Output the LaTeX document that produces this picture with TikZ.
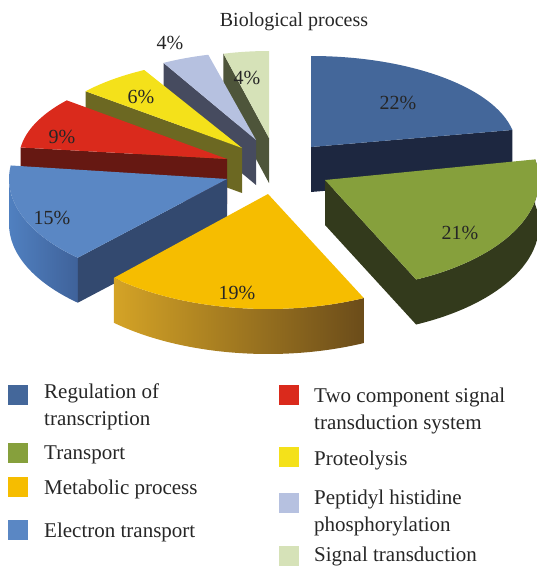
\documentclass[tikz,border=0pt]{standalone}
\usepackage{fontspec}
\setmainfont{Liberation Serif}
\usetikzlibrary{calc}
% slice colours (top face / side)
\definecolor{regtop}{HTML}{44679A}
\definecolor{regside}{HTML}{1D2740}
\definecolor{transtop}{HTML}{86A03C}
\definecolor{transside}{HTML}{333A1C}
\definecolor{metatop}{HTML}{F6BD00}
\definecolor{metawl}{HTML}{D4A326}
\definecolor{metawr}{HTML}{6B4C1A}
\definecolor{electop}{HTML}{5A87C4}
\definecolor{elecside}{HTML}{33496F}
\definecolor{elecwl}{HTML}{5080C0}
\definecolor{elecwr}{HTML}{3F629A}
\definecolor{twotop}{HTML}{DA2A1C}
\definecolor{twoside}{HTML}{661812}
\definecolor{prottop}{HTML}{F4E11A}
\definecolor{protside}{HTML}{6C6822}
\definecolor{peptop}{HTML}{B6C1E0}
\definecolor{pepside}{HTML}{464B5F}
\definecolor{sigtop}{HTML}{D6E2B8}
\definecolor{sigside}{HTML}{4E553A}
\begin{document}
\begin{tikzpicture}[x=1pt, y=1pt,
    every node/.style={font=\fontsize{20}{24}\selectfont, text=black!85},
    lgbox/.style={minimum size=20pt, inner sep=0pt},
    lgtext/.style={anchor=west, inner sep=0pt, align=left, font=\fontsize{21}{26.5}\selectfont}]
    \useasboundingbox (0,0) rectangle (537,-567);
    %! --- Pie ---
    % apex of each slice
    \coordinate (sig) at (269,-138);
    \coordinate (pep) at (256,-140);
    \coordinate (prot) at (242,-148);
    \coordinate (two) at (227,-159);
    \coordinate (elec) at (227,-179);
    \coordinate (reg) at (311,-147);
    \coordinate (trans) at (325,-180);
    \coordinate (meta) at (268,-194);

    % Signal transduction
    \fill[sigside] (sig) -- ++(104.4:183 and 87) -- ++(0,-45) -- ++(284.4:183 and 87) -- cycle;
    \fill[sigtop] (sig) -- ++(104.4:183 and 87) arc[start angle=104.4, end angle=90, x radius=183, y radius=87] -- cycle;
    % Peptidyl histidine phosphorylation
    \fill[pepside] (pep) -- ++(118.8:192 and 88) -- ++(0,-45) -- ++(298.8:192 and 88) -- cycle;
    \fill[peptop] (pep) -- ++(118.8:192 and 88) arc[start angle=118.8, end angle=104.4, x radius=192, y radius=88] -- cycle;
    % Proteolysis
    \fill[protside] (prot) -- ++(140.4:203 and 89) -- ++(0,-45) -- ++(320.4:203 and 89) -- cycle;
    \fill[prottop] (prot) -- ++(140.4:203 and 89) arc[start angle=140.4, end angle=118.8, x radius=203, y radius=89] -- cycle;
    % Two component signal transduction system
    \fill[twoside] (two) -- ++(172.8:208 and 92) -- ++(0,-45) -- ++(352.8:208 and 92) -- cycle;
    \fill[twotop] (two) -- ++(172.8:208 and 92) arc[start angle=172.8, end angle=140.4, x radius=208, y radius=92] -- cycle;
    % Electron transport
    \shade[left color=elecwl, right color=elecwr] ($(elec)+(180:218 and 108)$) arc[start angle=180, end angle=226.8, x radius=218, y radius=108] -- ++(0,-45) arc[start angle=226.8, end angle=180, x radius=218, y radius=108] -- cycle;
    \fill[elecside] (elec) -- ++(226.8:218 and 108) -- ++(0,-45) -- ++(46.8:218 and 108) -- cycle;
    \fill[electop] (elec) -- ++(226.8:218 and 108) arc[start angle=226.8, end angle=172.8, x radius=218, y radius=108] -- cycle;
    % Regulation of transcription
    \fill[regside] (reg) -- ++(10.8:205 and 91) -- ++(0,-45) -- ++(190.8:205 and 91) -- cycle;
    \fill[regtop] (reg) -- ++(90:205 and 91) arc[start angle=90, end angle=10.8, x radius=205, y radius=91] -- cycle;
    % Transport
    \fill[transside] ($(trans)+(-64.8:214 and 110)$) arc[start angle=-64.8, end angle=10.8, x radius=214, y radius=110] -- ++(0,-45) arc[start angle=10.8, end angle=-64.8, x radius=214, y radius=110] -- cycle;
    \fill[transside] (trans) -- ++(-64.8:214 and 110) -- ++(0,-45) -- ++(115.2:214 and 110) -- cycle;
    \fill[transtop] (trans) -- ++(10.8:214 and 110) arc[start angle=10.8, end angle=-64.8, x radius=214, y radius=110] -- cycle;
    % Metabolic process
    \shade[left color=metawl, right color=metawr] ($(meta)+(-133.2:225 and 115)$) arc[start angle=-133.2, end angle=-64.8, x radius=225, y radius=115] -- ++(0,-45) arc[start angle=-64.8, end angle=-133.2, x radius=225, y radius=115] -- cycle;
    \fill[metatop] (meta) -- ++(-64.8:225 and 115) arc[start angle=-64.8, end angle=-133.2, x radius=225, y radius=115] -- cycle;

    % Title and percentages
    \node[anchor=base] (title) at (294,-27) {Biological process};
    \node (p22) at (398,-103) {22\%};
    \node (p21) at (460,-233) {21\%};
    \node (p19) at (237,-293) {19\%};
    \node (p15) at (52,-218) {15\%};
    \node (p9) at (62,-137) {9\%};
    \node (p6) at (141,-97) {6\%};
    \node (p4a) at (170,-43) {4\%};
    \node (p4b) at (247,-78) {4\%};

    %! --- Legend ---
    % left column
    \foreach \n/\c/\ys/\yt/\t in {reg/regtop/395/407/{Regulation of\\transcription},
        trans/transtop/453/455/Transport, meta/metatop/487/489/Metabolic process,
        elec/electop/530/532/Electron transport} {
        \node[lgbox, fill=\c] (box\n) at (18,-\ys) {};
        \node[lgtext] (lab\n) at (44,-\yt) {\t};
    }
    % right column
    \foreach \n/\c/\ys/\yt/\t in {two/twotop/395/411/{Two component signal\\transduction system},
        prot/prottop/457/460/Proteolysis, pep/peptop/503/513/{Peptidyl histidine\\phosphorylation},
        sig/sigtop/556/556/Signal transduction} {
        \node[lgbox, fill=\c] (box\n) at (289,-\ys) {};
        \node[lgtext] (lab\n) at (314,-\yt) {\t};
    }
\end{tikzpicture}
\end{document}
